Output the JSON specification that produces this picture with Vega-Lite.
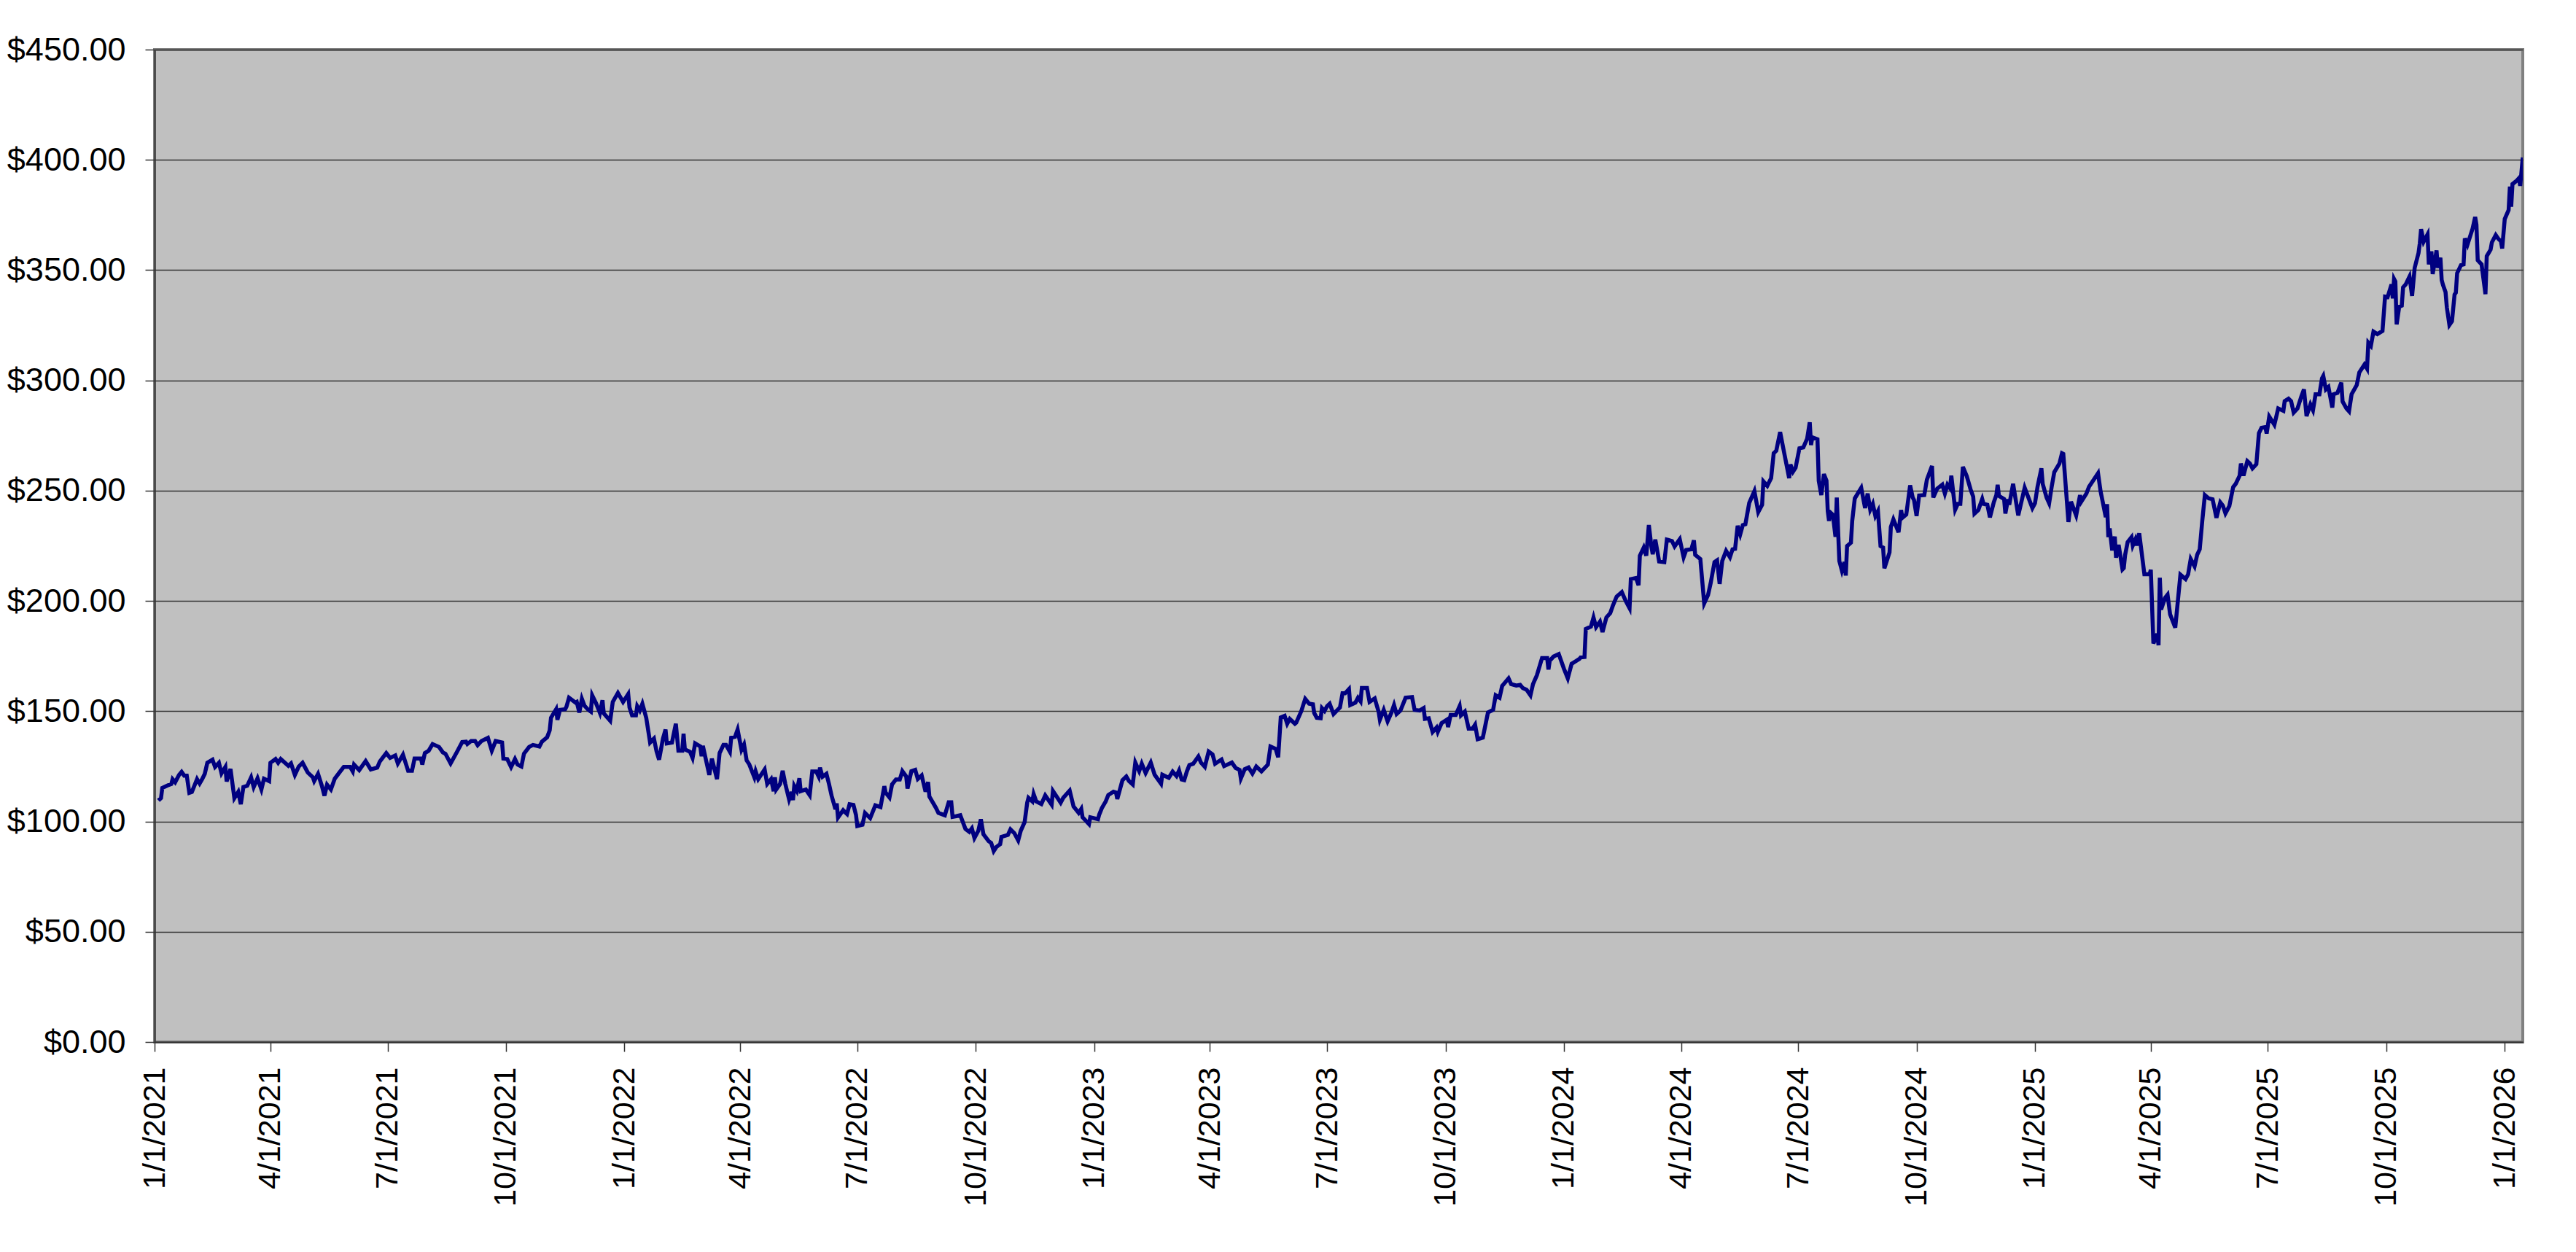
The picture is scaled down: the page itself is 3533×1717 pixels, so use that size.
{
"$schema": "https://vega.github.io/schema/vega-lite/v6.json",
"width": 3248,
"height": 1361,
"autosize": {"type": "none"},
"padding": {"left": 212, "top": 68, "right": 73, "bottom": 288},
"background": "white",
"config": {"view": {"fill": "#C0C0C0", "stroke": "#808080", "strokeWidth": 4}, "font": "Liberation Sans"},
"data": {"values": [
{"date":"2021-01-04","price":109.5},{"date":"2021-01-06","price":110.6},{"date":"2021-01-07","price":115.2},{"date":"2021-01-11","price":116.3},{"date":"2021-01-14","price":117},{"date":"2021-01-15","price":119.2},{"date":"2021-01-17","price":117.8},{"date":"2021-01-20","price":121.1},{"date":"2021-01-22","price":122.5},{"date":"2021-01-24","price":120.8},{"date":"2021-01-26","price":120.8},{"date":"2021-01-28","price":113},{"date":"2021-01-30","price":113.4},
{"date":"2021-02-03","price":119.2},{"date":"2021-02-05","price":117.2},{"date":"2021-02-07","price":119.2},{"date":"2021-02-09","price":121.6},{"date":"2021-02-11","price":126.6},{"date":"2021-02-15","price":128},{"date":"2021-02-17","price":124.7},{"date":"2021-02-20","price":126.6},{"date":"2021-02-22","price":121.8},{"date":"2021-02-25","price":124.7},{"date":"2021-02-26","price":118.1},
{"date":"2021-03-01","price":123.8},{"date":"2021-03-04","price":110.6},{"date":"2021-03-07","price":113.4},{"date":"2021-03-09","price":107.8},{"date":"2021-03-11","price":115.6},{"date":"2021-03-14","price":116.2},{"date":"2021-03-17","price":120},{"date":"2021-03-19","price":115.6},{"date":"2021-03-22","price":119.6},{"date":"2021-03-25","price":114.5},{"date":"2021-03-27","price":119.4},{"date":"2021-03-31","price":118.3},
{"date":"2021-04-01","price":126.6},{"date":"2021-04-05","price":128.3},{"date":"2021-04-07","price":126.6},{"date":"2021-04-09","price":128.3},{"date":"2021-04-15","price":125.2},{"date":"2021-04-17","price":126.3},{"date":"2021-04-20","price":121.1},{"date":"2021-04-23","price":124.9},{"date":"2021-04-26","price":126.6},{"date":"2021-04-30","price":122.2},
{"date":"2021-05-04","price":120},{"date":"2021-05-05","price":118.3},{"date":"2021-05-08","price":121.6},{"date":"2021-05-11","price":116.1},{"date":"2021-05-13","price":111.7},{"date":"2021-05-15","price":116.7},{"date":"2021-05-18","price":114.5},{"date":"2021-05-21","price":119.4},{"date":"2021-05-25","price":122.5},{"date":"2021-05-28","price":124.7},
{"date":"2021-06-02","price":124.7},{"date":"2021-06-04","price":122.7},{"date":"2021-06-05","price":125.8},{"date":"2021-06-09","price":123.3},{"date":"2021-06-14","price":127.4},{"date":"2021-06-18","price":123.6},{"date":"2021-06-23","price":124.4},{"date":"2021-06-25","price":127.2},{"date":"2021-06-30","price":131},
{"date":"2021-07-03","price":128.8},{"date":"2021-07-07","price":129.9},{"date":"2021-07-09","price":126.3},{"date":"2021-07-13","price":130.3},{"date":"2021-07-17","price":123},{"date":"2021-07-20","price":123},{"date":"2021-07-22","price":128.5},{"date":"2021-07-27","price":128.5},{"date":"2021-07-28","price":125.8},{"date":"2021-07-30","price":131},
{"date":"2021-08-02","price":132.1},{"date":"2021-08-05","price":135.1},{"date":"2021-08-10","price":133.8},{"date":"2021-08-13","price":131.3},{"date":"2021-08-15","price":130.7},{"date":"2021-08-19","price":126.3},{"date":"2021-08-24","price":131.6},{"date":"2021-08-28","price":136},{"date":"2021-08-31","price":136.2},
{"date":"2021-09-01","price":135.1},{"date":"2021-09-04","price":136.5},{"date":"2021-09-07","price":136.5},{"date":"2021-09-09","price":134.6},{"date":"2021-09-12","price":136.5},{"date":"2021-09-17","price":137.9},{"date":"2021-09-20","price":132.1},{"date":"2021-09-23","price":136.5},{"date":"2021-09-28","price":135.8},{"date":"2021-09-29","price":128.5},
{"date":"2021-10-02","price":128.3},{"date":"2021-10-05","price":124.7},{"date":"2021-10-08","price":128.3},{"date":"2021-10-10","price":125.8},{"date":"2021-10-13","price":124.9},{"date":"2021-10-15","price":130.7},{"date":"2021-10-19","price":133.8},{"date":"2021-10-22","price":134.7},{"date":"2021-10-27","price":134},{"date":"2021-10-29","price":136.2},
{"date":"2021-11-02","price":138.2},{"date":"2021-11-04","price":141.3},{"date":"2021-11-05","price":147},{"date":"2021-11-09","price":150.9},{"date":"2021-11-10","price":146.1},{"date":"2021-11-12","price":150.6},{"date":"2021-11-16","price":150.9},{"date":"2021-11-17","price":152},{"date":"2021-11-19","price":156.1},{"date":"2021-11-24","price":153.9},{"date":"2021-11-25","price":154.2},{"date":"2021-11-27","price":149.4},{"date":"2021-11-29","price":155.6},
{"date":"2021-12-01","price":152.5},{"date":"2021-12-04","price":150.6},{"date":"2021-12-06","price":149.8},{"date":"2021-12-07","price":157.2},{"date":"2021-12-10","price":153.6},{"date":"2021-12-13","price":149.2},{"date":"2021-12-15","price":155},{"date":"2021-12-16","price":149},{"date":"2021-12-21","price":145.7},{"date":"2021-12-23","price":154.2},{"date":"2021-12-27","price":158.3},{"date":"2021-12-31","price":154.2},
{"date":"2022-01-04","price":157.8},{"date":"2022-01-05","price":151.7},{"date":"2022-01-07","price":148.1},{"date":"2022-01-10","price":148.1},{"date":"2022-01-11","price":152.3},{"date":"2022-01-13","price":150.3},{"date":"2022-01-15","price":153.4},{"date":"2022-01-18","price":147},{"date":"2022-01-21","price":135.8},{"date":"2022-01-24","price":137.6},{"date":"2022-01-26","price":131.8},{"date":"2022-01-28","price":128},{"date":"2022-01-31","price":137.6},
{"date":"2022-02-02","price":141.7},{"date":"2022-02-03","price":135.4},{"date":"2022-02-07","price":135.8},{"date":"2022-02-10","price":144.3},{"date":"2022-02-12","price":132.1},{"date":"2022-02-15","price":132.1},{"date":"2022-02-16","price":139.8},{"date":"2022-02-17","price":132.7},{"date":"2022-02-21","price":131.6},{"date":"2022-02-23","price":128.8},{"date":"2022-02-25","price":135.4},
{"date":"2022-03-01","price":134},{"date":"2022-03-02","price":129.6},{"date":"2022-03-03","price":134.3},{"date":"2022-03-08","price":121.1},{"date":"2022-03-10","price":128.5},{"date":"2022-03-14","price":119.2},{"date":"2022-03-16","price":131},{"date":"2022-03-19","price":134.7},{"date":"2022-03-21","price":134.7},{"date":"2022-03-24","price":131.6},{"date":"2022-03-25","price":138},{"date":"2022-03-28","price":138.4},{"date":"2022-03-30","price":141.7},
{"date":"2022-04-02","price":132.5},{"date":"2022-04-04","price":134.9},{"date":"2022-04-06","price":127.7},{"date":"2022-04-08","price":126},{"date":"2022-04-10","price":123},{"date":"2022-04-12","price":120},{"date":"2022-04-13","price":122.7},{"date":"2022-04-15","price":119.2},{"date":"2022-04-20","price":123.6},{"date":"2022-04-22","price":117},{"date":"2022-04-25","price":119.2},{"date":"2022-04-27","price":113.7},{"date":"2022-04-28","price":120},{"date":"2022-04-29","price":114.5},
{"date":"2022-05-02","price":117},{"date":"2022-05-04","price":123},{"date":"2022-05-06","price":117.2},{"date":"2022-05-09","price":110},{"date":"2022-05-11","price":113.4},{"date":"2022-05-12","price":109.7},{"date":"2022-05-13","price":116.1},{"date":"2022-05-15","price":113.9},{"date":"2022-05-17","price":119.6},{"date":"2022-05-18","price":113.7},{"date":"2022-05-22","price":114.5},{"date":"2022-05-25","price":111.9},{"date":"2022-05-27","price":122.7},{"date":"2022-05-30","price":122.7},
{"date":"2022-06-01","price":120.3},{"date":"2022-06-02","price":124.4},{"date":"2022-06-04","price":120.3},{"date":"2022-06-07","price":121.6},{"date":"2022-06-09","price":117},{"date":"2022-06-11","price":111.7},{"date":"2022-06-14","price":105.6},{"date":"2022-06-15","price":108.2},{"date":"2022-06-16","price":101.8},{"date":"2022-06-20","price":105.1},{"date":"2022-06-21","price":104.5},{"date":"2022-06-23","price":103.4},{"date":"2022-06-25","price":107.8},{"date":"2022-06-28","price":107.5},{"date":"2022-06-30","price":102.9},
{"date":"2022-07-01","price":97.9},{"date":"2022-07-05","price":98.5},{"date":"2022-07-07","price":103.8},{"date":"2022-07-11","price":101.5},{"date":"2022-07-15","price":107.3},{"date":"2022-07-19","price":106.5},{"date":"2022-07-22","price":116},{"date":"2022-07-23","price":113.1},{"date":"2022-07-26","price":110.9},{"date":"2022-07-28","price":116.8},{"date":"2022-07-31","price":119},
{"date":"2022-08-03","price":119},{"date":"2022-08-05","price":122.8},{"date":"2022-08-08","price":120.4},{"date":"2022-08-09","price":114.9},{"date":"2022-08-12","price":122.8},{"date":"2022-08-15","price":123.4},{"date":"2022-08-17","price":119.3},{"date":"2022-08-20","price":120.9},{"date":"2022-08-23","price":113.5},{"date":"2022-08-25","price":117.9},{"date":"2022-08-26","price":111.3},{"date":"2022-08-31","price":106.3},
{"date":"2022-09-02","price":103.9},{"date":"2022-09-07","price":102.8},{"date":"2022-09-10","price":108.7},{"date":"2022-09-12","price":108.7},{"date":"2022-09-13","price":102.1},{"date":"2022-09-16","price":102.4},{"date":"2022-09-19","price":102.8},{"date":"2022-09-23","price":96.6},{"date":"2022-09-26","price":95.3},{"date":"2022-09-28","price":96.9},{"date":"2022-09-30","price":92.5},
{"date":"2022-10-03","price":95.8},{"date":"2022-10-05","price":101},{"date":"2022-10-07","price":94.2},{"date":"2022-10-11","price":91.1},{"date":"2022-10-13","price":90.3},{"date":"2022-10-15","price":86.6},{"date":"2022-10-17","price":88.4},{"date":"2022-10-20","price":89.7},{"date":"2022-10-21","price":93},{"date":"2022-10-26","price":93.9},{"date":"2022-10-28","price":96.4},{"date":"2022-10-31","price":94.7},
{"date":"2022-11-03","price":91.4},{"date":"2022-11-05","price":95.8},{"date":"2022-11-08","price":99.7},{"date":"2022-11-10","price":108.5},{"date":"2022-11-11","price":110.7},{"date":"2022-11-14","price":109.1},{"date":"2022-11-15","price":112.4},{"date":"2022-11-17","price":109.1},{"date":"2022-11-21","price":107.9},{"date":"2022-11-24","price":111.8},{"date":"2022-11-29","price":107.6},{"date":"2022-11-30","price":113.8},
{"date":"2022-12-06","price":108.5},{"date":"2022-12-08","price":110.7},{"date":"2022-12-13","price":114},{"date":"2022-12-16","price":106.8},{"date":"2022-12-20","price":103.9},{"date":"2022-12-22","price":105.7},{"date":"2022-12-23","price":101.9},{"date":"2022-12-28","price":98.8},{"date":"2022-12-29","price":101.9},
{"date":"2023-01-04","price":101},{"date":"2023-01-05","price":103.2},{"date":"2023-01-07","price":106.1},{"date":"2023-01-10","price":109.1},{"date":"2023-01-12","price":112},{"date":"2023-01-16","price":113.5},{"date":"2023-01-18","price":113.1},{"date":"2023-01-19","price":110.2},{"date":"2023-01-23","price":118.7},{"date":"2023-01-26","price":120.4},{"date":"2023-01-28","price":118.4},{"date":"2023-01-31","price":116.8},
{"date":"2023-02-02","price":126.7},{"date":"2023-02-05","price":122.8},{"date":"2023-02-07","price":126.2},{"date":"2023-02-10","price":122},{"date":"2023-02-14","price":126.7},{"date":"2023-02-17","price":121.2},{"date":"2023-02-22","price":117.1},{"date":"2023-02-23","price":121.2},{"date":"2023-02-28","price":119.8},
{"date":"2023-03-03","price":122.6},{"date":"2023-03-06","price":120.6},{"date":"2023-03-08","price":123.1},{"date":"2023-03-10","price":119},{"date":"2023-03-12","price":118.7},{"date":"2023-03-14","price":122.6},{"date":"2023-03-16","price":125.6},{"date":"2023-03-19","price":126.2},{"date":"2023-03-23","price":129.5},{"date":"2023-03-25","price":126.7},{"date":"2023-03-28","price":124.8},{"date":"2023-03-31","price":131.7},
{"date":"2023-04-03","price":130.4},{"date":"2023-04-05","price":126.2},{"date":"2023-04-10","price":128.1},{"date":"2023-04-12","price":125.1},{"date":"2023-04-18","price":126.7},{"date":"2023-04-21","price":124.2},{"date":"2023-04-24","price":123.4},{"date":"2023-04-25","price":119.5},{"date":"2023-04-28","price":123.7},
{"date":"2023-05-01","price":124.5},{"date":"2023-05-04","price":121.7},{"date":"2023-05-07","price":124.9},{"date":"2023-05-11","price":122.7},{"date":"2023-05-16","price":125.8},{"date":"2023-05-18","price":134},{"date":"2023-05-22","price":132.9},{"date":"2023-05-24","price":129.1},{"date":"2023-05-26","price":147.2},{"date":"2023-05-29","price":147.9},{"date":"2023-05-31","price":144.3},
{"date":"2023-06-02","price":146.5},{"date":"2023-06-06","price":144.3},{"date":"2023-06-07","price":144.8},{"date":"2023-06-11","price":150.1},{"date":"2023-06-14","price":155.6},{"date":"2023-06-17","price":153.4},{"date":"2023-06-20","price":153.1},{"date":"2023-06-21","price":149.2},{"date":"2023-06-23","price":147},{"date":"2023-06-26","price":146.8},{"date":"2023-06-27","price":151.4},{"date":"2023-06-29","price":150.1},
{"date":"2023-07-01","price":152.3},{"date":"2023-07-03","price":153.4},{"date":"2023-07-06","price":148.7},{"date":"2023-07-11","price":151.7},{"date":"2023-07-13","price":158.1},{"date":"2023-07-15","price":158.1},{"date":"2023-07-18","price":160},{"date":"2023-07-19","price":152.8},{"date":"2023-07-23","price":153.9},{"date":"2023-07-25","price":156.1},{"date":"2023-07-27","price":154.5},{"date":"2023-07-28","price":160.5},
{"date":"2023-08-01","price":160.5},{"date":"2023-08-03","price":154.2},{"date":"2023-08-07","price":155.8},{"date":"2023-08-10","price":149.8},{"date":"2023-08-11","price":146.1},{"date":"2023-08-14","price":150.6},{"date":"2023-08-17","price":145.4},{"date":"2023-08-20","price":149.4},{"date":"2023-08-22","price":152.8},{"date":"2023-08-24","price":148.7},{"date":"2023-08-27","price":150.3},{"date":"2023-08-31","price":156.1},
{"date":"2023-09-05","price":156.4},{"date":"2023-09-07","price":150.6},{"date":"2023-09-11","price":150.3},{"date":"2023-09-14","price":151.4},{"date":"2023-09-15","price":146.5},{"date":"2023-09-18","price":146.8},{"date":"2023-09-21","price":140.6},{"date":"2023-09-24","price":142.6},{"date":"2023-09-25","price":140.6},{"date":"2023-09-28","price":144.6},
{"date":"2023-10-02","price":146.1},{"date":"2023-10-03","price":142.8},{"date":"2023-10-05","price":148.3},{"date":"2023-10-09","price":148.3},{"date":"2023-10-12","price":152.3},{"date":"2023-10-13","price":148.1},{"date":"2023-10-16","price":149.8},{"date":"2023-10-19","price":142.1},{"date":"2023-10-22","price":142.1},{"date":"2023-10-24","price":143.9},{"date":"2023-10-26","price":137.3},{"date":"2023-10-30","price":138},
{"date":"2023-11-03","price":149.4},{"date":"2023-11-07","price":150.6},{"date":"2023-11-09","price":157.2},{"date":"2023-11-12","price":156.1},{"date":"2023-11-14","price":161.4},{"date":"2023-11-19","price":164.9},{"date":"2023-11-21","price":162.3},{"date":"2023-11-25","price":161.6},{"date":"2023-11-28","price":161.9},{"date":"2023-11-30","price":160.5},
{"date":"2023-12-03","price":159.7},{"date":"2023-12-06","price":157.2},{"date":"2023-12-08","price":162.3},{"date":"2023-12-11","price":166.3},{"date":"2023-12-15","price":174.1},{"date":"2023-12-19","price":174.1},{"date":"2023-12-20","price":168.9},{"date":"2023-12-21","price":172.9},{"date":"2023-12-24","price":174.8},{"date":"2023-12-28","price":175.9},
{"date":"2024-01-01","price":169.3},{"date":"2024-01-04","price":164.9},{"date":"2024-01-07","price":171.5},{"date":"2024-01-10","price":172.6},{"date":"2024-01-13","price":173.7},{"date":"2024-01-14","price":174.4},{"date":"2024-01-17","price":174.6},{"date":"2024-01-18","price":187.3},{"date":"2024-01-22","price":188.4},{"date":"2024-01-24","price":192.5},{"date":"2024-01-26","price":188.1},{"date":"2024-01-29","price":190.6},{"date":"2024-01-31","price":185.9},
{"date":"2024-02-03","price":192.5},{"date":"2024-02-06","price":194.5},{"date":"2024-02-08","price":197.8},{"date":"2024-02-11","price":202},{"date":"2024-02-15","price":204},{"date":"2024-02-18","price":200},{"date":"2024-02-21","price":196.7},{"date":"2024-02-22","price":209.9},{"date":"2024-02-26","price":210.4},{"date":"2024-02-28","price":207.1},{"date":"2024-02-29","price":220.5},
{"date":"2024-03-03","price":224.2},{"date":"2024-03-05","price":220.5},{"date":"2024-03-07","price":234.4},{"date":"2024-03-09","price":224.5},{"date":"2024-03-10","price":221.2},{"date":"2024-03-12","price":227.8},{"date":"2024-03-15","price":217.9},{"date":"2024-03-19","price":217.6},{"date":"2024-03-21","price":227.8},{"date":"2024-03-25","price":227.1},{"date":"2024-03-27","price":224.7},{"date":"2024-03-31","price":228},
{"date":"2024-04-03","price":219.8},{"date":"2024-04-05","price":223.1},{"date":"2024-04-09","price":223.4},{"date":"2024-04-11","price":227.5},{"date":"2024-04-12","price":220.9},{"date":"2024-04-16","price":219},{"date":"2024-04-19","price":198.9},{"date":"2024-04-22","price":202.7},{"date":"2024-04-24","price":208},{"date":"2024-04-27","price":217.6},{"date":"2024-04-29","price":218.4},
{"date":"2024-05-01","price":207.7},{"date":"2024-05-03","price":218.1},{"date":"2024-05-06","price":222.7},{"date":"2024-05-09","price":219.8},{"date":"2024-05-11","price":223.4},{"date":"2024-05-13","price":223.6},{"date":"2024-05-15","price":234.1},{"date":"2024-05-17","price":230.2},{"date":"2024-05-19","price":234.4},{"date":"2024-05-21","price":234.8},{"date":"2024-05-24","price":244.5},{"date":"2024-05-28","price":249.8},{"date":"2024-05-31","price":240.3},
{"date":"2024-06-03","price":243.6},{"date":"2024-06-04","price":254.2},{"date":"2024-06-07","price":252.2},{"date":"2024-06-10","price":255.7},{"date":"2024-06-12","price":267},{"date":"2024-06-14","price":268.1},{"date":"2024-06-17","price":276.6},{"date":"2024-06-20","price":267.6},{"date":"2024-06-24","price":255.7},{"date":"2024-06-25","price":261.9},{"date":"2024-06-27","price":258.6},{"date":"2024-06-29","price":260.4},
{"date":"2024-07-02","price":269.2},{"date":"2024-07-05","price":269.6},{"date":"2024-07-08","price":273.6},{"date":"2024-07-10","price":281},{"date":"2024-07-11","price":270.7},{"date":"2024-07-12","price":274.2},{"date":"2024-07-16","price":273.3},{"date":"2024-07-17","price":254.4},{"date":"2024-07-19","price":248},{"date":"2024-07-21","price":257.5},{"date":"2024-07-23","price":254.6},{"date":"2024-07-24","price":240.7},{"date":"2024-07-25","price":236.3},{"date":"2024-07-26","price":240.1},{"date":"2024-07-28","price":239},{"date":"2024-07-30","price":229.1},{"date":"2024-07-31","price":246.9},
{"date":"2024-08-02","price":218.1},{"date":"2024-08-04","price":213.7},{"date":"2024-08-06","price":217.6},{"date":"2024-08-07","price":211.5},{"date":"2024-08-08","price":224.9},{"date":"2024-08-11","price":226.4},{"date":"2024-08-12","price":236.3},{"date":"2024-08-14","price":246.5},{"date":"2024-08-19","price":251.3},{"date":"2024-08-22","price":242.1},{"date":"2024-08-24","price":248.7},{"date":"2024-08-26","price":241.4},{"date":"2024-08-28","price":244},{"date":"2024-08-30","price":238.5},
{"date":"2024-09-01","price":240.7},{"date":"2024-09-03","price":224.9},{"date":"2024-09-05","price":224.2},{"date":"2024-09-06","price":214.8},{"date":"2024-09-10","price":222},{"date":"2024-09-11","price":233.5},{"date":"2024-09-13","price":237},{"date":"2024-09-17","price":231.1},{"date":"2024-09-19","price":241.2},{"date":"2024-09-20","price":237.7},{"date":"2024-09-23","price":239.2},{"date":"2024-09-24","price":243.6},{"date":"2024-09-26","price":252.4},{"date":"2024-09-28","price":246.9},{"date":"2024-09-29","price":245.8},
{"date":"2024-10-01","price":238.5},{"date":"2024-10-03","price":247.8},{"date":"2024-10-07","price":248},{"date":"2024-10-09","price":254.9},{"date":"2024-10-13","price":261.2},{"date":"2024-10-14","price":246.9},{"date":"2024-10-17","price":250.9},{"date":"2024-10-21","price":252.7},{"date":"2024-10-23","price":248.7},{"date":"2024-10-25","price":252.7},{"date":"2024-10-27","price":251.1},{"date":"2024-10-28","price":256.8},{"date":"2024-10-31","price":241.4},
{"date":"2024-11-02","price":244},{"date":"2024-11-04","price":244},{"date":"2024-11-06","price":260.8},{"date":"2024-11-09","price":256.6},{"date":"2024-11-12","price":250.5},{"date":"2024-11-14","price":247.3},{"date":"2024-11-15","price":239.6},{"date":"2024-11-18","price":241.2},{"date":"2024-11-21","price":246.2},{"date":"2024-11-22","price":244},{"date":"2024-11-25","price":243.6},{"date":"2024-11-27","price":237.9},{"date":"2024-11-30","price":244.7},
{"date":"2024-12-02","price":248},{"date":"2024-12-03","price":252.7},{"date":"2024-12-04","price":247.6},{"date":"2024-12-08","price":246.2},{"date":"2024-12-09","price":239.6},{"date":"2024-12-11","price":246.1},{"date":"2024-12-12","price":243.6},{"date":"2024-12-15","price":253.1},{"date":"2024-12-19","price":238.8},{"date":"2024-12-24","price":251.3},{"date":"2024-12-30","price":242.1},
{"date":"2025-01-01","price":244.3},{"date":"2025-01-03","price":251.8},{"date":"2025-01-06","price":260.1},{"date":"2025-01-07","price":253.1},{"date":"2025-01-10","price":246.9},{"date":"2025-01-12","price":244.3},{"date":"2025-01-14","price":251.8},{"date":"2025-01-16","price":258.4},{"date":"2025-01-20","price":262.3},{"date":"2025-01-22","price":267},{"date":"2025-01-23","price":266.7},{"date":"2025-01-27","price":235.8},{"date":"2025-01-29","price":245},
{"date":"2025-02-02","price":238.8},{"date":"2025-02-05","price":248},{"date":"2025-02-06","price":245},{"date":"2025-02-10","price":248.7},{"date":"2025-02-12","price":251.8},{"date":"2025-02-19","price":257.9},{"date":"2025-02-21","price":249.6},{"date":"2025-02-23","price":243.9},{"date":"2025-02-25","price":238},{"date":"2025-02-26","price":243.9},{"date":"2025-02-27","price":228.9},{"date":"2025-02-28","price":232.9},
{"date":"2025-03-02","price":222.9},{"date":"2025-03-04","price":229.2},{"date":"2025-03-05","price":219.6},{"date":"2025-03-07","price":225.4},{"date":"2025-03-10","price":214.3},{"date":"2025-03-11","price":214.9},{"date":"2025-03-12","price":220.7},{"date":"2025-03-14","price":226.7},{"date":"2025-03-17","price":228.9},{"date":"2025-03-18","price":225.1},{"date":"2025-03-20","price":227.8},{"date":"2025-03-21","price":225.1},{"date":"2025-03-23","price":230.7},{"date":"2025-03-27","price":212.1},{"date":"2025-03-31","price":212.1},
{"date":"2025-04-01","price":214.1},{"date":"2025-04-03","price":180.7},{"date":"2025-04-06","price":185.1},{"date":"2025-04-07","price":179.9},{"date":"2025-04-08","price":210.5},{"date":"2025-04-09","price":196.1},{"date":"2025-04-12","price":201.3},{"date":"2025-04-14","price":202.8},{"date":"2025-04-16","price":193.9},{"date":"2025-04-20","price":187.9},{"date":"2025-04-24","price":211.9},{"date":"2025-04-28","price":209.9},{"date":"2025-04-30","price":212.1},
{"date":"2025-05-02","price":219},{"date":"2025-05-05","price":215.7},{"date":"2025-05-07","price":220.9},{"date":"2025-05-09","price":223.4},{"date":"2025-05-11","price":236.4},{"date":"2025-05-13","price":248},{"date":"2025-05-16","price":246.5},{"date":"2025-05-19","price":246.1},{"date":"2025-05-22","price":237.7},{"date":"2025-05-25","price":244.7},{"date":"2025-05-27","price":243.2},{"date":"2025-05-29","price":239.7},
{"date":"2025-06-01","price":243},{"date":"2025-06-04","price":251.6},{"date":"2025-06-06","price":253.1},{"date":"2025-06-09","price":256.8},{"date":"2025-06-10","price":262.3},{"date":"2025-06-12","price":256.8},{"date":"2025-06-15","price":263.4},{"date":"2025-06-17","price":262.3},{"date":"2025-06-19","price":260.1},{"date":"2025-06-22","price":262},{"date":"2025-06-24","price":276.1},{"date":"2025-06-26","price":278.5},{"date":"2025-06-29","price":278.8},{"date":"2025-06-30","price":275.9},
{"date":"2025-07-02","price":283.6},{"date":"2025-07-06","price":279.9},{"date":"2025-07-09","price":287.3},{"date":"2025-07-13","price":286.2},{"date":"2025-07-14","price":290.6},{"date":"2025-07-17","price":291.7},{"date":"2025-07-19","price":290.6},{"date":"2025-07-21","price":285.4},{"date":"2025-07-24","price":287.3},{"date":"2025-07-27","price":292.8},{"date":"2025-07-29","price":295.9},{"date":"2025-07-31","price":283.8},
{"date":"2025-08-03","price":289.1},{"date":"2025-08-05","price":286.5},{"date":"2025-08-07","price":293.7},{"date":"2025-08-10","price":293.7},{"date":"2025-08-12","price":300.9},{"date":"2025-08-13","price":302},{"date":"2025-08-15","price":295.9},{"date":"2025-08-17","price":297},{"date":"2025-08-20","price":287.7},{"date":"2025-08-21","price":293.7},{"date":"2025-08-24","price":294.3},{"date":"2025-08-27","price":299},{"date":"2025-08-28","price":290.4},{"date":"2025-08-31","price":287.3},
{"date":"2025-09-02","price":286},{"date":"2025-09-04","price":293.7},{"date":"2025-09-08","price":297.9},{"date":"2025-09-10","price":303.6},{"date":"2025-09-14","price":307.2},{"date":"2025-09-16","price":305.3},{"date":"2025-09-17","price":317.1},{"date":"2025-09-19","price":315.7},{"date":"2025-09-21","price":322.1},{"date":"2025-09-24","price":321},{"date":"2025-09-28","price":322.4},{"date":"2025-09-30","price":338},
{"date":"2025-10-02","price":337.8},{"date":"2025-10-05","price":343.5},{"date":"2025-10-06","price":337.2},{"date":"2025-10-07","price":346},{"date":"2025-10-08","price":344.9},{"date":"2025-10-09","price":325.4},{"date":"2025-10-11","price":333.4},{"date":"2025-10-13","price":333.9},{"date":"2025-10-14","price":342.2},{"date":"2025-10-16","price":343.5},{"date":"2025-10-19","price":347.1},{"date":"2025-10-21","price":338.3},{"date":"2025-10-23","price":351},{"date":"2025-10-26","price":357.8},{"date":"2025-10-27","price":362.2},{"date":"2025-10-28","price":368.6},{"date":"2025-10-30","price":362.9},
{"date":"2025-11-02","price":366.2},{"date":"2025-11-03","price":352.6},{"date":"2025-11-05","price":358.5},{"date":"2025-11-06","price":348.2},{"date":"2025-11-09","price":358.9},{"date":"2025-11-10","price":351},{"date":"2025-11-12","price":355.6},{"date":"2025-11-13","price":345.5},{"date":"2025-11-14","price":343.3},{"date":"2025-11-16","price":340},{"date":"2025-11-17","price":333.1},{"date":"2025-11-19","price":325.1},{"date":"2025-11-21","price":326.8},{"date":"2025-11-23","price":338.9},{"date":"2025-11-24","price":339.8},{"date":"2025-11-25","price":348.6},{"date":"2025-11-28","price":352.3},{"date":"2025-11-30","price":352.6},
{"date":"2025-12-01","price":364.4},{"date":"2025-12-03","price":361.5},{"date":"2025-12-07","price":368.8},{"date":"2025-12-09","price":374.1},{"date":"2025-12-10","price":370.6},{"date":"2025-12-11","price":354.5},{"date":"2025-12-14","price":352.6},{"date":"2025-12-17","price":339.1},{"date":"2025-12-18","price":356.3},{"date":"2025-12-21","price":359.3},{"date":"2025-12-22","price":362.6},{"date":"2025-12-25","price":365.9},{"date":"2025-12-27","price":364.2},{"date":"2025-12-29","price":363.1},{"date":"2025-12-30","price":359.8},
{"date":"2026-01-01","price":373.2},{"date":"2026-01-04","price":377.2},{"date":"2026-01-05","price":387.9},{"date":"2026-01-06","price":378.7},{"date":"2026-01-07","price":389},{"date":"2026-01-10","price":390.4},{"date":"2026-01-12","price":391.7},{"date":"2026-01-13","price":388.2},{"date":"2026-01-15","price":401.1}
]},
"mark": {"type": "line", "color": "#000080", "strokeWidth": 5.5, "clip": true},
"encoding": {
  "x": {
    "field": "date", "type": "temporal",
    "scale": {"type": "utc", "nice": false, "domain": [{"year": 2021, "month": 1, "date": 1, "utc": true}, {"year": 2026, "month": 1, "date": 15, "utc": true}]},
    "axis": {
      "title": null, "grid": false, "format": "%-m/%-d/%Y",
      "values": [
        {"year": 2021, "month": 1, "date": 1, "utc": true}, {"year": 2021, "month": 4, "date": 1, "utc": true}, {"year": 2021, "month": 7, "date": 1, "utc": true}, {"year": 2021, "month": 10, "date": 1, "utc": true},
        {"year": 2022, "month": 1, "date": 1, "utc": true}, {"year": 2022, "month": 4, "date": 1, "utc": true}, {"year": 2022, "month": 7, "date": 1, "utc": true}, {"year": 2022, "month": 10, "date": 1, "utc": true},
        {"year": 2023, "month": 1, "date": 1, "utc": true}, {"year": 2023, "month": 4, "date": 1, "utc": true}, {"year": 2023, "month": 7, "date": 1, "utc": true}, {"year": 2023, "month": 10, "date": 1, "utc": true},
        {"year": 2024, "month": 1, "date": 1, "utc": true}, {"year": 2024, "month": 4, "date": 1, "utc": true}, {"year": 2024, "month": 7, "date": 1, "utc": true}, {"year": 2024, "month": 10, "date": 1, "utc": true},
        {"year": 2025, "month": 1, "date": 1, "utc": true}, {"year": 2025, "month": 4, "date": 1, "utc": true}, {"year": 2025, "month": 7, "date": 1, "utc": true}, {"year": 2025, "month": 10, "date": 1, "utc": true},
        {"year": 2026, "month": 1, "date": 1, "utc": true}
      ],
      "labelAngle": 270, "labelFont": "Liberation Sans", "labelFontSize": 43, "labelColor": "#000000",
      "labelPadding": 21, "labelOverlap": false, "labelFlush": false, "labelBound": false, "labelLimit": 0,
      "tickSize": 13, "tickColor": "#333333", "tickWidth": 1.5,
      "domainColor": "#333333", "domainWidth": 2
    }
  },
  "y": {
    "field": "price", "type": "quantitative",
    "scale": {"domain": [0, 450], "nice": false, "zero": true},
    "axis": {
      "title": null, "values": [0, 50, 100, 150, 200, 250, 300, 350, 400, 450], "format": "$.2f",
      "labelFont": "Liberation Sans", "labelFontSize": 45, "labelColor": "#000000", "labelPadding": 27,
      "labelOverlap": false, "labelFlush": false, "labelLimit": 0,
      "grid": true, "gridColor": "#333333", "gridWidth": 1.3,
      "tickSize": 13, "tickColor": "#333333", "tickWidth": 1.5,
      "domainColor": "#333333", "domainWidth": 2
    }
  }
}
}
